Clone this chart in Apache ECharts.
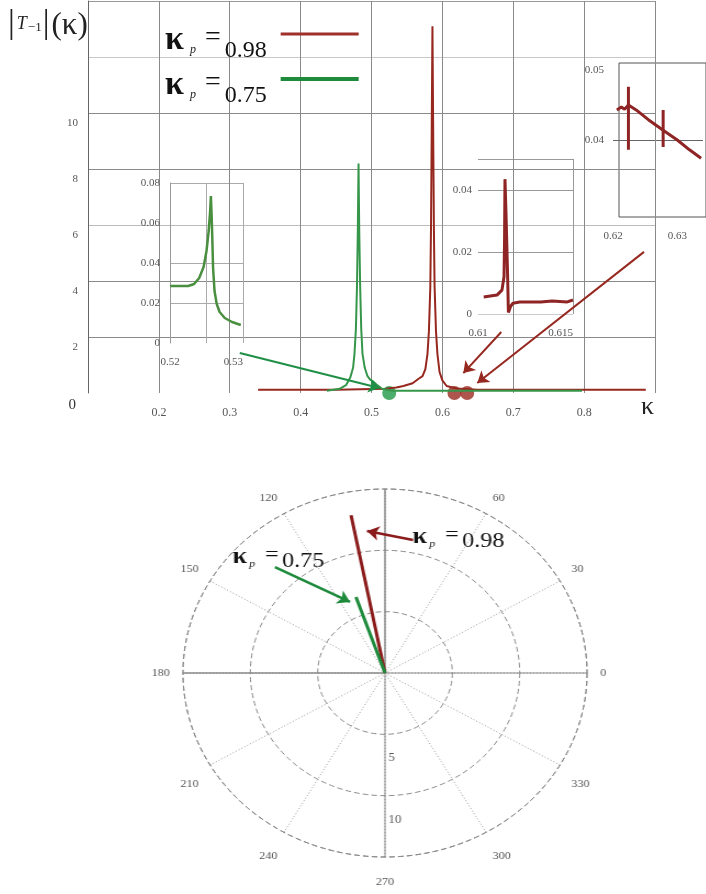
<!DOCTYPE html>
<html><head><meta charset="utf-8">
<script src="https://cdn.jsdelivr.net/npm/echarts@6/dist/echarts.min.js"></script>
<style>
html,body{margin:0;padding:0;background:#fff;}
#top{position:absolute;left:0;top:0;width:706px;height:440px;}
#bot{position:absolute;left:0;top:440px;width:706px;height:454px;transform:scaleX(1.098);transform-origin:385px 50%;}
</style></head><body>
<div id="top"></div><div id="bot"></div>
<script>
// ---------- data ----------
const mainXTicks = [0.2, 0.3, 0.4, 0.5, 0.6, 0.7, 0.8];
const mainYTicks = [0, 2, 4, 6, 8, 10];
const red098 = [[0.34,0.12],[0.45,0.12],[0.52,0.15],[0.535,0.2],[0.545,0.25],[0.558,0.35],[0.566,0.5],[0.572,0.6],[0.576,0.85],[0.579,1.4],[0.581,2.2],[0.583,3.8],[0.584,6],[0.585,9.5],[0.586,13.1],[0.587,9.5],[0.588,6],[0.589,3.8],[0.591,2.2],[0.593,1.4],[0.596,0.75],[0.6,0.45],[0.606,0.25],[0.62,0.16],[0.65,0.12],[0.887,0.12]];
const green075 = [[0.437,0.08],[0.455,0.15],[0.464,0.28],[0.47,0.55],[0.474,0.9],[0.476,1.4],[0.478,2.3],[0.4795,3.8],[0.4807,5.8],[0.4817,8.2],[0.4827,5.8],[0.484,3.8],[0.4855,2.3],[0.4873,1.4],[0.4905,0.9],[0.4944,0.6],[0.498,0.48],[0.502,0.42],[0.507,0.3],[0.515,0.15],[0.53,0.08],[0.797,0.08]];
const greenDots = [[0.525,0]];
const redDots = [[0.617,0],[0.635,0]];
const greenArrow = [[0.3141,1.43],[0.5113,0.18]];
const redArrowA = [[0.6831,2.18],[0.6296,0.71]];
const redArrowB = [[0.8845,5.04],[0.6493,0.36]];
// inset 1 (green, 0.52..0.53)
const insetGreen = [[0.52,0.0285],[0.5225,0.0285],[0.5233,0.0295],[0.524,0.0325],[0.5246,0.038],[0.525,0.046],[0.5253,0.056],[0.5255,0.066],[0.5256,0.0735],[0.5257,0.064],[0.5258,0.052],[0.5259,0.0375],[0.5261,0.026],[0.5264,0.0195],[0.5268,0.0155],[0.5275,0.0125],[0.5285,0.0105],[0.5297,0.009]];
const insetGreenXLabels = ['0.52','0.53'];
const insetGreenYLabels = ['0','0.02','0.04','0.06','0.08'];
// inset 2 (red, 0.61..0.615)
const insetRedA = [[0.6103,0.0055],[0.611,0.0061],[0.61126,0.0077],[0.61137,0.012],[0.6114,0.025],[0.61142,0.0435],[0.61148,0.031],[0.61156,0.012],[0.6116,0.0005],[0.61172,0.0025],[0.61184,0.0035],[0.6122,0.0039],[0.6133,0.0039],[0.6139,0.0042],[0.6147,0.0039],[0.615,0.0045]];
const insetRedAXLabels = ['0.61','0.615'];
const insetRedAYLabels = ['0','0.02','0.04'];
// inset 3 (red, 0.62..0.634)
const insetRedB = [[0.6206,0.0443],[0.6213,0.0447],[0.6218,0.0444],[0.6224,0.045],[0.6236,0.0443],[0.6255,0.0429],[0.6278,0.0414],[0.63,0.04],[0.6319,0.0386],[0.6337,0.0374]];
const insetRedBMark1 = [[0.6224,0.0476],[0.6224,0.0386]];
const insetRedBMark2 = [[0.6278,0.0443],[0.6278,0.039]];
const insetRedBXLabels = ['0.62','0.63'];
const insetRedBYLabels = ['0.04','0.05'];
// polar
const polarRed = [[0,101.1],[13.1,101.1]];
const polarGreen = [[0,109.2],[6.56,109.2]];
const radiusTicks = [5, 10];
const hiddenAngleLabels = [90, 360];
const crossAxes = [[15,0],[0,0],[15,90],[0,0],[15,180],[0,0],[15,270]];
const polarRedArrow = [[2.08,10.84],[-1.34,11.57]];
const polarGreenArrow = [[-8.17,8.64],[-2.6,5.79]];

// ---------- styles ----------
const SERIF = "'Liberation Serif','DejaVu Serif',serif";
const RED = '#96281f';
const GREEN = '#36964a';
const GREEN_L = '#1e8a3c';
const TR = 'rgba(0,0,0,0)';
const near = (a,b) => Math.abs(a-b) < 1e-7;
const lbl = (list) => (v) => { const s = list.find(t => near(parseFloat(t), v)); return s === undefined ? '' : s; };
const tickLbl = {color:'#555', fontSize:11, fontFamily:SERIF};

const richLegend = {
  k:{fontSize:34, fontFamily:SERIF, fontWeight:'bold', color:'#111', verticalAlign:'top', padding:[19,5,0,0]},
  p:{fontSize:12, fontStyle:'italic', fontFamily:SERIF, color:'#222', verticalAlign:'top', padding:[40,9,0,1]},
  e:{fontSize:28, fontFamily:SERIF, color:'#111', verticalAlign:'top', padding:[20,2,0,0]},
  n:{fontSize:24, fontFamily:SERIF, color:'#111', verticalAlign:'top', padding:[35,9,1,2]}
};
const richPolar = {
  k:{fontSize:24, fontFamily:SERIF, fontWeight:'bold', fill:'#111', verticalAlign:'top', padding:[8,1,0,0]},
  p:{fontSize:11, fontStyle:'italic', fontFamily:SERIF, fill:'#222', verticalAlign:'top', padding:[22,9,0,1]},
  e:{fontSize:22, fontFamily:SERIF, fill:'#111', verticalAlign:'top', padding:[7,2,0,0]},
  n:{fontSize:22, fontFamily:SERIF, fill:'#111', verticalAlign:'top', padding:[13,0,5,1]}
};
const legendText = n => '{k|κ}{p|p}{e|=}{n|' + n.split('=')[1] + '}';
function arrowLine(pts, color){
  return [{coord:pts[0], lineStyle:{color}}, {coord:pts[1]}];
}

// ---------- top chart ----------
const chartA = echarts.init(document.getElementById('top'));
chartA.setOption({
  animation:false,
  legend:[
    {orient:'vertical', left:165, top:23, padding:0, align:'right', itemWidth:78, itemHeight:3,
     data:[{name:'κp=0.98', icon:'rect'}], formatter:legendText, textStyle:{fontFamily:SERIF, rich:richLegend}},
    {orient:'vertical', left:165, top:68, padding:0, align:'right', itemWidth:78, itemHeight:4,
     data:[{name:'κp=0.75', icon:'rect'}], formatter:legendText, textStyle:{fontFamily:SERIF, rich:richLegend}}
  ],
  grid:[
    {left:88, top:1, width:567, height:392},
    {left:170, top:183, width:73, height:160},
    {left:478, top:159, width:95, height:155},
    {left:613, top:70, width:94, height:140},
    {left:619, top:63, width:100, height:154, show:true, borderColor:'#555', borderWidth:1, backgroundColor:TR}
  ],
  xAxis:[
    {gridIndex:0, type:'value', min:0.1, max:0.9, interval:0.1,
     axisLine:{show:false}, axisTick:{show:false},
     axisLabel:{formatter:lbl(mainXTicks.map(v=>v.toFixed(1))), margin:14, fontSize:12, color:'#555', fontFamily:SERIF},
     splitLine:{show:true, lineStyle:{color:'#8a8a8a'}}},
    {gridIndex:1, type:'value', min:0.52, max:0.53, interval:0.005,
     axisLine:{show:false}, axisTick:{show:false},
     axisLabel:Object.assign({formatter:lbl(insetGreenXLabels), margin:14, alignMaxLabel:'right'}, tickLbl),
     splitLine:{show:true, lineStyle:{color:'#aaa'}}},
    {gridIndex:2, type:'value', min:0.61, max:0.615, interval:0.005,
     axisLine:{show:false}, axisTick:{show:false},
     axisLabel:Object.assign({formatter:lbl(insetRedAXLabels), margin:14, alignMaxLabel:'right'}, tickLbl),
     splitLine:{show:true, lineStyle:{color:[TR,'#999']}}},
    {gridIndex:3, type:'value', min:0.62, max:0.634, interval:0.01,
     axisLine:{show:false}, axisTick:{show:false},
     axisLabel:Object.assign({formatter:lbl(insetRedBXLabels), margin:21}, tickLbl),
     splitLine:{show:false}},
    {gridIndex:4, type:'value', min:0, max:1, show:false}
  ],
  yAxis:[
    {gridIndex:0, type:'value', min:0, max:14, interval:2,
     axisLine:{show:true, lineStyle:{color:'#666'}}, axisTick:{show:false},
     axisLabel:{formatter:v => v===0 ? '{z|0}' : (mainYTicks.includes(v) ? String(v) : ''), verticalAlign:'top', padding:[5,0,0,0], margin:10, color:'#555', fontSize:11, fontFamily:SERIF,
       rich:{z:{fontSize:15, color:'#333', fontFamily:SERIF, padding:[0,2,0,0]}}},
     splitLine:{show:true, lineStyle:{color:[TR,'#8a8a8a','#8a8a8a','#bbb','#8a8a8a','#8a8a8a','#c8c8c8','#999']}}},
    {gridIndex:1, type:'value', min:0, max:0.08, interval:0.02,
     axisLine:{show:true, lineStyle:{color:'#999'}}, axisTick:{show:false},
     axisLabel:Object.assign({formatter:lbl(insetGreenYLabels), margin:10}, tickLbl),
     splitLine:{show:true, lineStyle:{color:[TR,'#aaa','#aaa',TR,'#aaa']}}},
    {gridIndex:2, type:'value', min:0, max:0.05, interval:0.01,
     axisLine:{show:false}, axisTick:{show:false},
     axisLabel:Object.assign({formatter:lbl(insetRedAYLabels), margin:6}, tickLbl),
     splitLine:{show:true, lineStyle:{color:['#ccc',TR,'#999',TR,'#999','#999']}}},
    {gridIndex:3, type:'value', min:0.03, max:0.05, interval:0.01,
     axisLine:{show:false}, axisTick:{show:false},
     axisLabel:Object.assign({formatter:lbl(insetRedBYLabels), margin:9}, tickLbl),
     splitLine:{show:true, lineStyle:{color:[TR,'#666',TR]}}},
    {gridIndex:4, type:'value', min:0, max:1, show:false}
  ],
  series:[
    {name:'κp=0.98', type:'line', xAxisIndex:0, yAxisIndex:0, data:red098, showSymbol:false,
     lineStyle:{color:RED, width:2}, itemStyle:{color:'#a0302a'},
     markLine:{silent:true, symbol:['none','arrow'], symbolSize:11, label:{show:false}, lineStyle:{color:RED, width:2, type:'solid'},
       data:[arrowLine(redArrowA, RED), arrowLine(redArrowB, RED)]}},
    {name:'κp=0.75', type:'line', xAxisIndex:0, yAxisIndex:0, data:green075, showSymbol:false,
     lineStyle:{color:GREEN, width:2}, itemStyle:{color:GREEN_L},
     markLine:{silent:true, symbol:['none','arrow'], symbolSize:11, label:{show:false}, lineStyle:{color:'#1e8f45', width:2, type:'solid'},
       data:[arrowLine(greenArrow, '#1e8f45')]}},
    {type:'scatter', xAxisIndex:0, yAxisIndex:0, data:greenDots, symbolSize:14, clip:false, itemStyle:{color:'#1f9a45'}},
    {type:'scatter', xAxisIndex:0, yAxisIndex:0, data:redDots, symbolSize:14, clip:false, itemStyle:{color:'#9a2a20'}},
    {type:'line', xAxisIndex:1, yAxisIndex:1, data:insetGreen, showSymbol:false, lineStyle:{color:'#4a8f3f', width:2.5}},
    {type:'line', xAxisIndex:2, yAxisIndex:2, data:insetRedA, showSymbol:false, lineStyle:{color:'#8f2424', width:3}},
    {type:'line', xAxisIndex:3, yAxisIndex:3, data:insetRedB, showSymbol:false, lineStyle:{color:'#8f2424', width:3}},
    {type:'line', xAxisIndex:3, yAxisIndex:3, data:insetRedBMark1, showSymbol:false, lineStyle:{color:'#8f2424', width:3}},
    {type:'line', xAxisIndex:3, yAxisIndex:3, data:insetRedBMark2, showSymbol:false, lineStyle:{color:'#8f2424', width:3}}
  ],
  graphic:[
    {type:'text', left:8, top:7, style:{
      text:'{b||}{t|T}{s|−1}{b||}{k|(κ)}',
      rich:{
        b:{fontSize:34, fontFamily:SERIF, fill:'#222', verticalAlign:'bottom', lineHeight:40, fontWeight:'normal'},
        t:{fontSize:18, fontStyle:'italic', fontFamily:SERIF, fill:'#222', verticalAlign:'bottom', lineHeight:40, padding:[0,1,8,2]},
        s:{fontSize:13, fontFamily:SERIF, fill:'#222', verticalAlign:'bottom', lineHeight:40, padding:[0,1,7,0]},
        k:{fontSize:31, fontFamily:SERIF, fill:'#222', verticalAlign:'bottom', lineHeight:40, padding:[0,0,0,2]}
      }}},
    {type:'text', left:641, top:394, style:{text:'κ', fontSize:26, fontFamily:SERIF, fill:'#222'}}
  ]
});

// ---------- polar chart ----------
const chartB = echarts.init(document.getElementById('bot'));
chartB.setOption({
  animation:false,
  polar:{center:[385,233], radius:184},
  angleAxis:{type:'value', min:0, max:360, interval:30, startAngle:0, clockwise:false,
    axisLine:{show:true, lineStyle:{color:'#888', type:[5,3]}},
    axisTick:{show:false},
    axisLabel:{formatter:v => hiddenAngleLabels.includes(v) ? '' : String(v), margin:12, padding:[8,0,0,0], color:'#555', fontSize:11, fontFamily:SERIF},
    splitLine:{show:true, lineStyle:{color:'#999', type:[1,2]}}},
  radiusAxis:{type:'value', min:0, max:15, interval:5,
    axisLine:{show:false}, axisTick:{show:false}, axisLabel:{show:false},
    splitLine:{show:true, lineStyle:{color:'#888', type:[5,3]}}},
  grid:{left:201, top:49, width:368, height:368, show:false},
  xAxis:{type:'value', min:-15, max:15, show:false},
  yAxis:{type:'value', min:-15, max:15, show:false},
  series:[
    {type:'line', coordinateSystem:'polar', data:crossAxes, showSymbol:false, silent:true, lineStyle:{color:'#8a8a8a', width:1}},
    {type:'line', coordinateSystem:'polar', data:polarRed, showSymbol:false, lineStyle:{color:'#8b1c1c', width:3}},
    {type:'line', coordinateSystem:'polar', data:polarGreen, showSymbol:false, lineStyle:{color:'#1e8a3c', width:3}},
    {type:'scatter', coordinateSystem:'polar', data:radiusTicks.map(r => [r, 270]), symbolSize:0,
     label:{show:true, position:'right', offset:[-2,24], formatter:p => String(p.value[0]), color:'#333', fontSize:12, fontFamily:SERIF}},
    {type:'line', xAxisIndex:0, yAxisIndex:0, data:[],
     markLine:{silent:true, symbol:['none','arrow'], symbolSize:11, label:{show:false}, lineStyle:{width:2.5, type:'solid'},
       data:[arrowLine(polarRedArrow, '#8b1c1c'), arrowLine(polarGreenArrow, '#1e8a3c')]}}
  ],
  graphic:[
    {type:'text', left:410, top:84, style:{text:'{k|κ}{p|p}{e|=}{n|0.98}', rich:richPolar}},
    {type:'text', left:246, top:104, style:{text:'{k|κ}{p|p}{e|=}{n|0.75}', rich:richPolar}}
  ]
});
</script></body></html>
